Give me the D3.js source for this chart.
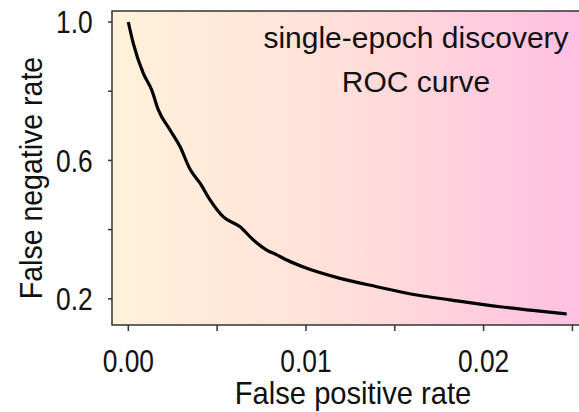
<!DOCTYPE html>
<html><head><meta charset="utf-8">
<script src="https://cdn.jsdelivr.net/npm/d3@7"></script>
<style>
html,body{margin:0;padding:0;background:#fff;}
svg{display:block;font-family:"Liberation Sans",Arial,sans-serif;}
</style></head>
<body>
<svg id="chart" width="579" height="412"></svg>
<script>
// ROC curve: false positive rate vs false negative rate
const falsePositiveRate = [0, 0.00028, 0.00084, 0.00132, 0.00169, 0.00235, 0.00291, 0.00347, 0.00404, 0.0046, 0.00535, 0.00629, 0.00704, 0.00779, 0.00836, 0.00892, 0.01005, 0.01192, 0.01399, 0.01624, 0.01811, 0.02093, 0.02290, 0.02468];
const falseNegativeRate = [1.0, 0.938, 0.852, 0.803, 0.746, 0.688, 0.640, 0.575, 0.534, 0.486, 0.437, 0.408, 0.370, 0.341, 0.327, 0.312, 0.288, 0.259, 0.235, 0.211, 0.197, 0.177, 0.166, 0.156];
const xTicks = [0, 0.005, 0.01, 0.015, 0.02, 0.025];
const xTickLabels = ["0.00", "", "0.01", "", "0.02", ""];
const yTicks = [1.0, 0.8, 0.6, 0.4, 0.2];
const yTickLabels = ["1.0", "", "0.6", "", "0.2"];
const xTitle = "False positive rate";
const yTitle = "False negative rate";
const noteLines = ["single-epoch discovery", "ROC curve"];

(function () {
const svg = d3.select("#chart");
const pL = 112, pR = 590, pT = 11, pB = 325;
const x = d3.scaleLinear().domain([-0.000918, 0.02599]).range([pL, pR]);
const y = d3.scaleLinear().domain([1.0318, 0.1243]).range([pT, pB]);

// gradient background
const defs = svg.append("defs");
const grad = defs.append("linearGradient").attr("id", "bg").attr("x1", "0%").attr("x2", "100%").attr("y1", "0%").attr("y2", "0%");
grad.append("stop").attr("offset", "0%").attr("stop-color", "#fff2da");
grad.append("stop").attr("offset", "50%").attr("stop-color", "#ffdfda");
grad.append("stop").attr("offset", "100%").attr("stop-color", "#ffbde2");
svg.append("rect").attr("x", pL).attr("y", pT).attr("width", pR - pL).attr("height", pB - pT).attr("fill", "url(#bg)");

// frame
svg.append("path").attr("d", `M${pR},${pT}H${pL}V${pB}H${pR}`)
  .attr("fill", "none").attr("stroke", "#333").attr("stroke-width", 1.5);

// y ticks
const yAxis = svg.append("g");
yTicks.forEach((t, i) => {
  yAxis.append("line").attr("x1", pL - 4).attr("x2", pL).attr("y1", y(t)).attr("y2", y(t)).attr("stroke", "#333").attr("stroke-width", 1.5);
  if (yTickLabels[i]) {
    yAxis.append("text").attr("transform", `translate(56,${y(t)}) scale(0.85,1)`)
      .attr("text-anchor", "start").attr("dy", "0.36em").attr("font-size", 31).attr("fill", "#111").text(yTickLabels[i]);
  }
});
// x ticks
const xAxis = svg.append("g");
xTicks.forEach((t, i) => {
  xAxis.append("line").attr("x1", x(t)).attr("x2", x(t)).attr("y1", pB).attr("y2", pB + 6).attr("stroke", "#333").attr("stroke-width", 1.5);
  if (xTickLabels[i]) {
    xAxis.append("text").attr("transform", `translate(${x(t)},372) scale(0.85,1)`)
      .attr("text-anchor", "middle").attr("font-size", 31).attr("fill", "#111").text(xTickLabels[i]);
  }
});

// titles
svg.append("text").attr("transform", "translate(353,404) scale(0.94,1)").attr("text-anchor", "middle")
  .attr("font-size", 31).attr("fill", "#111").text(xTitle);
svg.append("text").attr("transform", "translate(42,178) rotate(-90) scale(0.92,1)").attr("text-anchor", "middle")
  .attr("font-size", 31).attr("fill", "#111").text(yTitle);

// annotation
noteLines.forEach((s, i) => {
  svg.append("text").attr("x", 416).attr("y", 48 + i * 44).attr("text-anchor", "middle")
    .attr("font-size", 30).attr("fill", "#111").text(s);
});

// curve
const pts = falsePositiveRate.map((v, i) => [v, falseNegativeRate[i]]);
svg.append("path").datum(pts)
  .attr("d", d3.line().curve(d3.curveMonotoneX).x(d => x(d[0])).y(d => y(d[1])))
  .attr("fill", "none").attr("stroke", "#000").attr("stroke-width", 3.2).attr("stroke-linejoin", "round");
})();
</script>
</body></html>
